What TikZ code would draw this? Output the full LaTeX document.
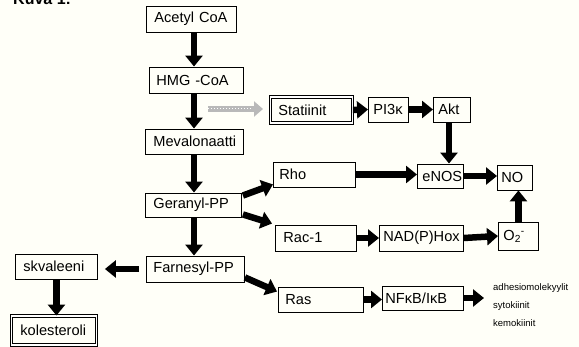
\documentclass[tikz,border=0pt]{standalone}
\usepackage{fontspec}
\setmainfont{Liberation Sans}
\usetikzlibrary{arrows.meta,calc}
\definecolor{bg}{RGB}{255,255,248}
\begin{document}
\begin{tikzpicture}[x=1pt,y=-1pt,
  bx/.style n args={3}{draw, line width=0.9pt, anchor=west, inner xsep=0pt, inner ysep=0pt,
    text width=#1pt, minimum height=#2pt, align=left,
    execute at begin node={\hspace*{#3pt}}, font=\fontsize{14.6}{16}\selectfont},
  dbl/.style={double, double distance=1.4pt, line width=0.9pt},
  arr/.style={line width=6.5pt, -{Triangle[length=11pt,width=17pt]}},
  grayarr/.style={line width=6pt, draw=gray!55, -{Triangle[length=9pt,width=15pt]}},
  small/.style={anchor=west, inner sep=0pt, font=\fontsize{9.5}{11}\selectfont}]
\fill[bg] (0,0) rectangle (579,347);
\useasboundingbox (0,0) rectangle (579,347);

\node[anchor=base west, inner sep=0pt, font=\bfseries\fontsize{16}{18}\selectfont] (title) at (13,5) {Kuva 1:};

\node[bx={90}{26}{8}] (acetyl) at (146,19) {Acetyl CoA};
\node[bx={94}{26}{7}] (hmg) at (149,80) {HMG -CoA};
\node[bx={98}{25}{8}] (meval) at (145,141.5) {Mevalonaatti};
\node[bx={96}{24}{8}] (geranyl) at (145,205) {Geranyl-PP};
\node[bx={98}{26}{7}] (farnesyl) at (146,269) {Farnesyl-PP};
\node[bx={82}{25}{8}] (skval) at (15,266.5) {skvaleeni};
\node[bx={85}{29}{9}, dbl] (koles) at (11,330.5) {kolesteroli};
\node[bx={82}{26}{8}, dbl] (statiinit) at (270,110) {Statiinit};
\node[bx={40}{25}{5}] (pi3k) at (368,109.5) {PI3κ};
\node[bx={37}{25}{5}] (akt) at (433,109.5) {Akt};
\node[bx={82}{25}{6}] (rho) at (273,174.5) {Rho};
\node[bx={46}{24}{5}] (enos) at (417,176) {eNOS};
\node[bx={35}{25}{4}] (no) at (497,177.5) {NO};
\node[bx={81}{26}{8}] (rac1) at (275,238) {Rac-1};
\node[bx={84}{26}{4}] (nadph) at (379,238) {NAD(P)Hox};
\node[bx={40}{28}{5}] (o2) at (498,236) {O\textsubscript{2}\textsuperscript{-}};
\node[bx={85}{25}{7}] (ras) at (278,299.5) {Ras};
\node[bx={81}{24}{3}] (nfkb) at (382,298) {NFκB/IκB};

\node[small] (adh) at (493,288) {adhesiomolekyylit};
\node[small] (syt) at (493,306) {sytokiinit};
\node[small] (kem) at (493,323) {kemokiinit};

\coordinate (spine) at (194,0);
\coordinate (ax) at (449,0);
\coordinate (gs) at (208,109);
\coordinate (nfend) at (484,298);

\draw[arr] (acetyl.south -| spine) -- (hmg.north -| spine);
\draw[arr] (hmg.south -| spine) -- (meval.north -| spine);
\draw[arr] (meval.south -| spine) -- (geranyl.north -| spine);
\draw[arr] (geranyl.south -| spine) -- (farnesyl.north -| spine);
\draw[arr, shorten <=7pt, shorten >=7pt] (farnesyl.west) -- (farnesyl.west -| skval.east);
\draw[arr] (skval.south) -- (skval.south |- koles.north);

\draw[grayarr, shorten >=7pt] (gs) -- (gs -| statiinit.west);
\draw[white, line width=1pt, dotted, shorten >=18pt] (gs) -- (gs -| statiinit.west);

\draw[arr] ($(geranyl.north east)+(1,3)$) -- ($(rho.south west)+(0,-3)$);
\draw[arr] ($(geranyl.south east)+(1,-3)$) -- ($(rac1.north west)+(-3,-1)$);
\draw[arr] ($(farnesyl.south east)+(0,-5)$) -- ($(ras.north west)+(-1,5)$);

\draw[arr] (statiinit.east) -- (pi3k.west);
\draw[arr] (pi3k.east) -- (akt.west);
\draw[arr] (akt.south -| ax) -- (enos.north -| ax);
\draw[arr] (rho.east) -- (rho.east -| enos.west);
\draw[arr] (enos.east) -- (enos.east -| no.west);
\draw[arr] (rac1.east) -- (nadph.west);
\draw[arr] (nadph.east) -- (o2.west);
\draw[arr] (o2.north) -- (o2.north |- no.south);
\draw[arr] (ras.east) -- (ras.east -| nfkb.west);
\draw[arr] (nfkb.east) -- (nfend);
\end{tikzpicture}
\end{document}
